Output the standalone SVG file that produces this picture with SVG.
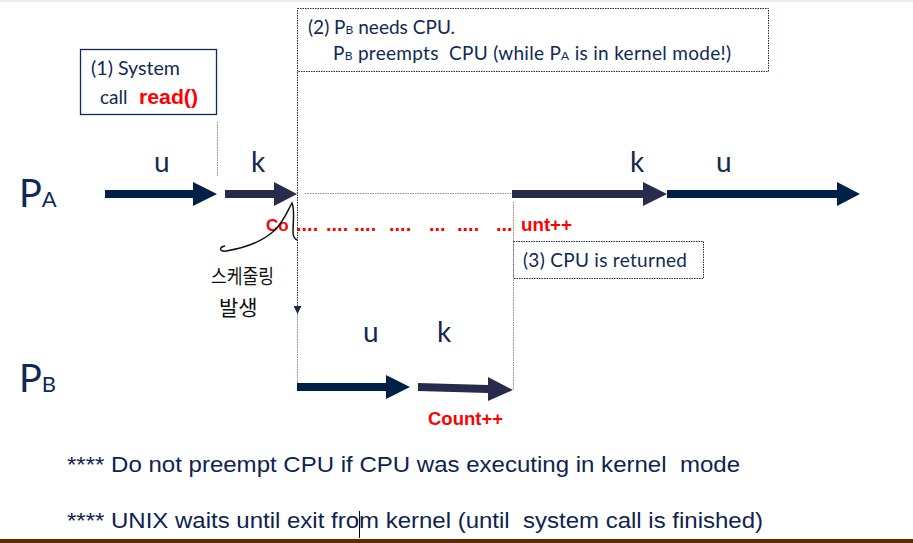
<svg xmlns="http://www.w3.org/2000/svg" width="913" height="543" viewBox="0 0 913 543">
<defs>
<style>
.cal{font-family:Lato,"Open Sans","Noto Sans",sans-serif;fill:#0f2a55;white-space:pre}
.lbl{font-family:Lato,"Open Sans",sans-serif;font-size:28px;fill:#14284e}
.red{font-family:"Liberation Sans",Arial,sans-serif;font-weight:bold;fill:#ff0000}
.dots{font-family:"Liberation Sans",Arial,sans-serif;font-weight:bold;fill:#ff0000;font-size:20px}
.note{font-family:"Liberation Sans",Arial,sans-serif;font-size:22px;fill:#0e2350;white-space:pre}
.dot{fill:none;stroke:#1c2b4a;stroke-width:1;stroke-dasharray:1.5 1}
.gdot{fill:none;stroke:#8a8f99;stroke-width:1;stroke-dasharray:1.5 1}
.navy{fill:#002147}
.slate{fill:#282b4b}
</style>
<marker id="down" markerWidth="8" markerHeight="8" refX="8" refY="4" orient="auto" markerUnits="userSpaceOnUse"><path d="M0,0 L8,4 L0,8 Z" fill="#1c2b4a"/></marker>
</defs>
<rect width="913" height="543" fill="#ffffff"/>
<rect x="0" y="0" width="913" height="2" fill="#ececec"/>

<g id="box1">
<rect x="80.5" y="49.5" width="136" height="65" fill="none" stroke="#0f2a55" stroke-width="1.3"/>
<text class="cal" x="91" y="75" font-size="19" textLength="89" lengthAdjust="spacingAndGlyphs">(1) System</text>
<text class="cal" x="100" y="104" font-size="19">call</text>
<text class="red" x="139" y="104" font-size="20" font-family="Lato,sans-serif" textLength="59" lengthAdjust="spacingAndGlyphs">read()</text>
</g>

<g id="box2">
<rect x="297.5" y="8.5" width="471" height="63" class="dot"/>
<text class="cal" x="308" y="34" font-size="19" textLength="147" lengthAdjust="spacing">(2) P<tspan font-size="12">B</tspan> needs CPU.</text>
<text class="cal" x="333" y="60" font-size="19" textLength="398" lengthAdjust="spacing">P<tspan font-size="12">B</tspan> preempts  CPU (while P<tspan font-size="12">A</tspan> is in kernel mode!)</text>
</g>

<g id="box3">
<rect x="513.5" y="241.5" width="190" height="37" class="dot"/>
<text class="cal" x="523" y="267" font-size="19" textLength="164" lengthAdjust="spacing">(3) CPU is returned</text>
</g>

<g id="PA">
<text class="cal" x="19" y="207" font-size="38" font-family="Lato,sans-serif">P<tspan font-size="22">A</tspan></text>
</g>
<g id="PB">
<text class="cal" x="19" y="392" font-size="38" font-family="Lato,sans-serif">P<tspan font-size="22">B</tspan></text>
</g>

<g id="connectors">
<line x1="217.5" y1="122" x2="217.5" y2="177" class="gdot"/>
<line x1="297.5" y1="72" x2="297.5" y2="314" class="dot" marker-end="url(#down)"/>
<line x1="297.5" y1="314" x2="297.5" y2="385" class="gdot"/>
<line x1="305" y1="193.5" x2="511" y2="193.5" class="gdot"/>
<line x1="513.5" y1="202" x2="513.5" y2="390" class="gdot"/>
</g>

<g id="arrowsA">
<path class="navy" d="M105,190 L193,190 L193,182 L217,194 L193,206 L193,198 L105,198 Z"/>
<path class="slate" d="M225,190 L274,190 L274,182 L297,194 L274,206 L274,198 L225,198 Z"/>
<path class="slate" d="M512,190 L643,190 L643,182 L667,194 L643,206 L643,198 L512,198 Z"/>
<path class="navy" d="M667,190 L837,190 L837,182 L860,194 L837,206 L837,198 L667,198 Z"/>
</g>
<g id="arrowsB">
<path class="navy" d="M297,383 L386,383 L386,375 L410,387 L386,399 L386,391 L297,391 Z"/>
<path class="slate" d="M418,383 L488,385 L488,377 L513,390 L488,401 L488,393 L418,391 Z"/>
</g>

<g id="labels">
<text class="lbl" x="154" y="172">u</text>
<text class="lbl" x="251" y="172">k</text>
<text class="lbl" x="630" y="172">k</text>
<text class="lbl" x="716" y="172">u</text>
<text class="lbl" x="363" y="342">u</text>
<text class="lbl" x="437" y="342">k</text>
</g>

<g id="counter">
<text class="red" x="266" y="231" font-size="17">Co</text>
<text class="dots" x="296" y="231">....</text>
<text class="dots" x="326" y="231">....</text>
<text class="dots" x="354" y="231">....</text>
<text class="dots" x="389" y="231">....</text>
<text class="dots" x="429" y="231">...</text>
<text class="dots" x="457" y="231">....</text>
<text class="dots" x="496" y="231">...</text>
<text class="red" x="521" y="231" font-size="18" textLength="51" lengthAdjust="spacingAndGlyphs">unt++</text>
<text class="red" x="428" y="425" font-size="18" textLength="75" lengthAdjust="spacingAndGlyphs">Count++</text>
</g>

<g id="handwriting">
<path d="M225,246 C219,247 219,252 226,251 C245,248 262,242 275,230 C284,221 288,210 292,203 C295,210 293,222 293,232 C293,237 295,239 297,240" fill="none" stroke="#111" stroke-width="1.5"/>
<text x="211" y="284" font-size="20" font-family="'Noto Sans CJK KR',sans-serif" fill="#111" textLength="63" lengthAdjust="spacingAndGlyphs">스케줄링</text>
<text x="219" y="315" font-size="21" font-family="'Noto Sans CJK KR',sans-serif" fill="#111">발생</text>
</g>

<g id="notes">
<text class="note" x="67" y="472" textLength="673" lengthAdjust="spacingAndGlyphs">**** Do not preempt CPU if CPU was executing in kernel  mode</text>
<text class="note" x="67" y="528" textLength="696" lengthAdjust="spacingAndGlyphs">**** UNIX waits until exit from kernel (until  system call is finished)</text>
<line x1="359.5" y1="511" x2="359.5" y2="538" stroke="#000" stroke-width="1"/>
</g>
<rect x="0" y="539" width="913" height="4" fill="#5c2c00"/>
</svg>
